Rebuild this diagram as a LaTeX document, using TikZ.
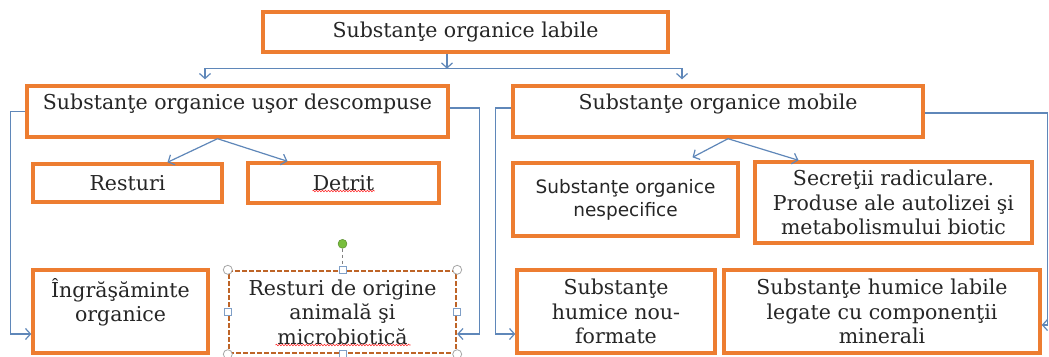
\documentclass[tikz,border=0pt]{standalone}
\usepackage{fontspec}
\setmainfont{DejaVu Serif}
\newfontfamily\plainsans{DejaVu Sans}
\usetikzlibrary{arrows.meta, positioning, calc, decorations.pathmorphing}
\definecolor{boxorange}{RGB}{237,125,49}
\definecolor{linkblue}{RGB}{95,135,185}
\definecolor{handlegreen}{RGB}{120,190,60}

\begin{document}
\begin{tikzpicture}[
  x=1pt, y=-1pt,
  box/.style={rectangle, draw=boxorange, line width=3.4pt, inner sep=0pt,
              align=center, text=black!85, font=\fontsize{20.5}{24.5}\selectfont},
  sansbox/.style={box, font=\plainsans\fontsize{18.5}{23}\selectfont},
  toptext/.style={text height=16pt, text depth=20pt},
  selbox/.style={box, draw=boxorange!80!black, line width=2.4pt,
                 dash pattern=on 5pt off 2pt},
  link/.style={draw=linkblue, line width=1.2pt,
               -{Straight Barb[length=5pt, width=11pt]}},
  cornerhandle/.style={circle, draw=gray!70, fill=white, line width=0.8pt,
                       minimum size=9pt, inner sep=0pt},
  edgehandle/.style={rectangle, draw=linkblue!80, fill=white, line width=0.8pt,
                     minimum size=7pt, inner sep=0pt},
  rothandle/.style={circle, draw=handlegreen!70!black, fill=handlegreen,
                    minimum size=9pt, inner sep=0pt},
  spellmark/.style={draw=red!80, line width=0.6pt, decorate,
                    decoration={snake, amplitude=0.8pt, segment length=3pt}}
]
  \useasboundingbox[fill=white] (0,0) rectangle (1049,356);

  % first level
  \node[box, minimum width=405, minimum height=40] (lab) at (465.5,32) {Substanţe organice labile};

  % second level
  \node[box, toptext, minimum width=421, minimum height=51] (usor) at (237.5,111.5) {Substanţe organice uşor descompuse};
  \node[box, toptext, minimum width=410, minimum height=51] (mob)  at (718,111.5)   {Substanţe organice mobile};

  % third level
  \node[box, minimum width=189, minimum height=38] (resturi) at (127.5,183) {Resturi};
  \node[box, minimum width=191, minimum height=40] (detrit)  at (343.5,183) {Detrit};
  \node[sansbox, minimum width=225, minimum height=73] (nesp) at (625.5,199.5) {Substanţe organice\\nespecifice};
  \node[box, minimum width=277, minimum height=81] (secr) at (893.5,202.5) {Secreţii radiculare.\\Produse ale autolizei şi\\metabolismului biotic};

  % fourth level
  \node[box, text height=41pt, text depth=21pt, minimum width=175, minimum height=83] (ingr) at (120.5,311.5) {Îngrăşăminte\\organice};
  \node[selbox, minimum width=227, minimum height=82] (rest2) at (342.5,312) {Resturi de origine\\animală şi\\microbiotică};
  \node[box, minimum width=198, minimum height=83] (nou)  at (616,311.5) {Substanţe\\humice nou-\\formate};
  \node[box, minimum width=316, minimum height=83] (lab2) at (882,311.5) {Substanţe humice labile\\legate cu componenţii\\minerali};

  % connectors
  \coordinate (split) at ($(lab.south)+(-18.5,15)$);
  \coordinate (inL) at ($(usor.north)+(-32.5,-5)$);
  \coordinate (inR) at ($(mob.north)+(-36,-5)$);
  \draw[link] (lab.south -| split) -- (split);
  \draw[link] (split) -| (inL);
  \draw[link] (split) -| (inR);

  \draw[link] ($(usor.south)+(-20,0)$) -- ($(resturi.north)+(40,0)$);
  \draw[link] ($(usor.south)+(-20,0)$) -- ($(detrit.north)+(-56,0)$);
  \draw[link] ($(mob.south)+(10,0)$) -- ($(nesp.north)+(67,-4)$);
  \draw[link] ($(mob.south)+(10,0)$) -- ($(secr.north)+(-95,0)$);

  \draw[link] (usor.west) -- ++(-15,0) |- ($(ingr.west)+(0,22.5)$);
  \draw[link] ($(usor.east)+(0,-3.5)$) -- ++(30,0) |- ($(rest2.east)+(0,22)$);
  \draw[link] ($(mob.west)+(0,-3.5)$) -- ++(-16,0) |- ($(nou.west)+(0,22.5)$);
  \draw[link] ($(mob.east)+(0,1.5)$) -- ++(123,0) |- ($(lab2.east)+(0,13.5)$);

  % spell-check marks
  \draw[spellmark] ($(detrit.center)+(-31,8)$) -- ++(62,0);
  \draw[spellmark] ($(rest2.center)+(-67,33)$) -- ++(135,0);

  % selection handles
  \foreach \a/\n in {north west/nw, north east/ne, south west/sw, south east/se}
    \node[cornerhandle] (hc-\n) at (rest2.\a) {};
  \foreach \a/\n in {north/n, south/s, west/w, east/e}
    \node[edgehandle] (he-\n) at (rest2.\a) {};
  \node[rothandle] (hrot) at ($(rest2.north)+(0,-26)$) {};
  \draw[dashed, gray, line width=0.6pt] (hrot) -- (he-n);
\end{tikzpicture}
\end{document}
